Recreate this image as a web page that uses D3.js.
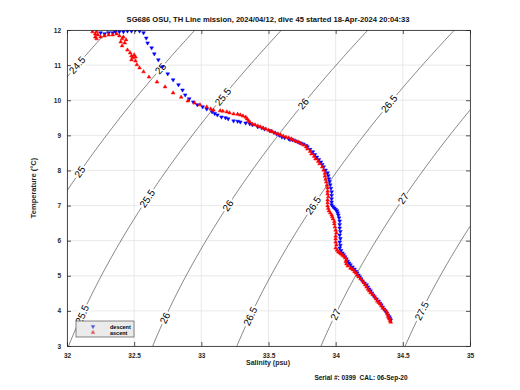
<!DOCTYPE html>
<html>
<head>
<meta charset="utf-8">
<script src="https://cdn.jsdelivr.net/npm/d3@7"></script>
<style>
body{margin:0;background:#fff}
text{font-family:"Liberation Sans",Arial,sans-serif}
</style>
</head>
<body>
<script>
// chart text
var titleText="SG686 OSU, TH Line mission, 2024/04/12, dive 45 started 18-Apr-2024 20:04:33";
var footText="Serial #: 0399  CAL: 06-Sep-20";

// ticks
var salTicks=[32,32.5,33,33.5,34,34.5,35];
var tempTicks=[3,4,5,6,7,8,9,10,11,12];

// isopycnal levels and where their labels sit (temperature)
var sigmaLevels=[24.5,25,25.5,26,26.5,27,27.5];
var labelSpots=[[24.5,11.0],[25,10.9],[25,7.96],[25.5,10.1],[25.5,7.2],[25.5,3.9],
  [26,9.9],[26,7.0],[26,3.8],[26.5,9.9],[26.5,7.0],[26.5,3.85],[27,7.2],[27,3.9],[27.5,4.0]];

// descent profile [salinity, temperature]
var descent=[[32.25,11.92],[32.28,11.89],[32.31,11.92],[32.34,11.92],[32.36,11.95],[32.39,11.95],
[32.42,11.95],[32.45,11.97],[32.48,11.97],[32.51,12.00],[32.54,11.97],[32.57,11.92],[32.59,11.77],
[32.60,11.63],[32.63,11.49],[32.65,11.32],[32.68,11.15],[32.71,10.95],[32.75,10.75],[32.79,10.58],
[32.83,10.44],[32.86,10.29],[32.88,10.15],[32.91,10.04],[32.94,9.95],[32.97,9.87],[33.01,9.81],
[33.04,9.75],[33.08,9.67],[33.12,9.58],[33.15,9.52],[33.20,9.47],[33.24,9.41],[33.29,9.38],
[33.33,9.35],[33.38,9.30],[33.42,9.24],[33.47,9.18],[33.51,9.13],[33.56,9.04],[33.60,8.95],
[33.65,8.90],[33.68,8.87],[33.72,8.81],[33.76,8.75],[33.79,8.67],[33.83,8.53],[33.86,8.38],
[33.89,8.24],[33.91,8.10],[33.94,7.93],[33.95,7.76],[33.96,7.59],[33.97,7.39],[33.97,7.19],
[33.97,7.02],[33.99,6.93],[34.01,6.85],[34.02,6.73],[34.03,6.56],[34.03,6.36],[34.03,6.16],
[34.03,5.96],[34.03,5.79],[34.05,5.65],[34.07,5.54],[34.09,5.42],[34.11,5.31],[34.14,5.19],
[34.16,5.08],[34.18,4.97],[34.20,4.85],[34.23,4.74],[34.25,4.62],[34.27,4.51],[34.29,4.40],
[34.32,4.28],[34.34,4.17],[34.36,4.05],[34.38,3.94],[34.40,3.83],[34.41,3.74],
[33.10,9.62],[33.18,9.50],[33.27,9.40],[33.36,9.33],[33.45,9.21],[33.54,9.08],[33.58,9.00],
[33.62,8.93],[33.66,8.88],[33.70,8.84],[33.74,8.78],[33.78,8.71],[33.81,8.60],[33.845,8.45],
[33.875,8.31],[33.90,8.17],[33.925,8.01],[33.945,7.85],[33.955,7.68],[33.965,7.49],[33.97,7.29],
[33.97,7.10],[33.98,6.97],[34.00,6.89],[34.015,6.79],[34.025,6.65],[34.03,6.46],[34.035,6.26],
[34.035,6.06],[34.035,5.87],[34.04,5.72],[34.06,5.60],[34.08,5.48],[34.10,5.36],[34.125,5.25],
[34.15,5.13],[34.17,5.02],[34.19,4.91],[34.215,4.79],[34.24,4.68],[34.26,4.57],[34.28,4.45],
[34.305,4.34],[34.33,4.22],[34.35,4.11],[34.37,4.00],[34.39,3.88],[34.405,3.78]];

// ascent profile [salinity, temperature]
var ascent=[[32.19,11.95],[32.21,11.89],[32.22,11.95],[32.21,11.80],[32.23,11.86],[32.22,11.75],
[32.25,11.80],[32.28,11.83],[32.31,11.86],[32.34,11.86],[32.37,11.89],[32.39,11.83],[32.41,11.75],
[32.42,11.80],[32.40,11.66],[32.43,11.63],[32.41,11.55],[32.44,11.72],[32.45,11.43],[32.47,11.35],
[32.48,11.26],[32.49,11.21],[32.51,11.23],[32.48,11.15],[32.51,11.12],[32.50,11.29],[32.52,11.01],
[32.54,10.92],[32.57,10.81],[32.61,10.66],[32.67,10.52],[32.73,10.38],[32.79,10.21],[32.85,10.09],
[32.90,9.98],[32.95,9.92],[32.99,9.87],[33.04,9.81],[33.07,9.75],[33.09,9.72],[33.14,9.70],
[33.19,9.67],[33.24,9.61],[33.29,9.58],[33.33,9.52],[33.34,9.47],[33.36,9.38],[33.38,9.32],
[33.42,9.27],[33.46,9.21],[33.50,9.15],[33.53,9.10],[33.57,9.04],[33.61,8.98],[33.65,8.93],
[33.68,8.87],[33.72,8.81],[33.76,8.73],[33.79,8.61],[33.82,8.47],[33.85,8.33],[33.88,8.19],
[33.91,8.01],[33.92,7.84],[33.93,7.67],[33.94,7.50],[33.94,7.33],[33.94,7.16],[33.94,6.99],
[33.95,6.85],[33.97,6.73],[33.98,6.62],[33.99,6.48],[34.00,6.30],[34.00,6.13],[34.00,5.96],
[34.00,5.79],[34.02,5.68],[34.04,5.62],[34.06,5.56],[34.08,5.45],[34.08,5.34],[34.11,5.22],
[34.13,5.17],[34.15,5.08],[34.17,4.97],[34.20,4.85],[34.22,4.74],[34.24,4.62],[34.26,4.51],
[34.29,4.40],[34.31,4.28],[34.33,4.20],[34.35,4.08],[34.38,3.97],[34.39,3.85],[34.40,3.77],[34.41,3.68],
[33.16,9.69],[33.21,9.64],[33.27,9.60],[33.31,9.55],[33.35,9.42],[33.40,9.30],[33.44,9.24],
[33.48,9.18],[33.52,9.12],[33.55,9.07],[33.59,9.01],
[33.63,8.95],[33.67,8.90],[33.70,8.84],[33.74,8.77],[33.78,8.67],[33.81,8.54],[33.84,8.40],
[33.87,8.26],[33.90,8.10],[33.92,7.92],[33.925,7.75],[33.935,7.58],[33.94,7.41],[33.945,7.25],
[33.94,7.08],[33.945,6.92],[33.96,6.79],[33.975,6.68],[33.99,6.55],[33.995,6.39],[34.005,6.22],
[34.00,6.05],[34.005,5.88],[34.01,5.73],[34.03,5.65],[34.05,5.59],[34.07,5.51],[34.075,5.40],
[34.09,5.28],[34.12,5.20],[34.14,5.12],[34.16,5.02],[34.185,4.91],[34.21,4.80],[34.23,4.68],
[34.25,4.57],[34.275,4.46],[34.30,4.34],[34.32,4.24],[34.34,4.14],[34.365,4.03],[34.385,3.91],
[34.395,3.81],[34.405,3.72]];

var W=520,H=390;
var pL=67,pR=470,pT=30,pB=346;

var svg=d3.select("body").append("svg").attr("width",W).attr("height",H);

var x=d3.scaleLinear().domain([32,35]).range([pL,pR]);
var y=d3.scaleLinear().domain([3,12]).range([pB,pT]);

// UNESCO EOS-80 density anomaly at surface pressure
function sigma(S,T){
  var rw=999.842594+6.793952e-2*T-9.095290e-3*T*T+1.001685e-4*T*T*T-1.120083e-6*T*T*T*T+6.536332e-9*T*T*T*T*T;
  var a=0.824493-4.0899e-3*T+7.6438e-5*T*T-8.2467e-7*T*T*T+5.3875e-9*T*T*T*T;
  var b=-5.72466e-3+1.0227e-4*T-1.6546e-6*T*T;
  return rw+a*S+b*Math.pow(S,1.5)+4.8314e-4*S*S-1000;
}
function salFor(level,T){
  var lo=25,hi=40;
  for(var k=0;k<50;k++){
    var mid=(lo+hi)/2;
    if(sigma(mid,T)<level) lo=mid; else hi=mid;
  }
  return (lo+hi)/2;
}

svg.append("clipPath").attr("id","plotclip").append("rect")
  .attr("x",pL).attr("y",pT).attr("width",pR-pL).attr("height",pB-pT);

// grid
var grid=svg.append("g");
grid.selectAll(".gx").data(salTicks).enter().append("line")
  .attr("x1",d=>x(d)).attr("x2",d=>x(d)).attr("y1",pT).attr("y2",pB)
  .attr("stroke","#e3e3e3").attr("stroke-width",0.8);
grid.selectAll(".gy").data(tempTicks).enter().append("line")
  .attr("x1",pL).attr("x2",pR).attr("y1",d=>y(d)).attr("y2",d=>y(d))
  .attr("stroke","#e3e3e3").attr("stroke-width",0.8);

// isopycnals
var plot=svg.append("g").attr("clip-path","url(#plotclip)");
var tSteps=d3.range(2.5,12.55,0.05);
var line=d3.line().x(d=>x(d[0])).y(d=>y(d[1]));
plot.selectAll(".iso").data(sigmaLevels).enter().append("path")
  .attr("d",lv=>line(tSteps.map(t=>[salFor(lv,t),t])))
  .attr("fill","none").attr("stroke","#333").attr("stroke-width",0.6);

plot.selectAll(".isolab").data(labelSpots).enter().append("text")
  .attr("transform",function(d){
    var s=salFor(d[0],d[1]);
    var s1=salFor(d[0],d[1]-0.1),s2=salFor(d[0],d[1]+0.1);
    var ang=Math.atan2(y(d[1]+0.1)-y(d[1]-0.1),x(s2)-x(s1))*180/Math.PI;
    return "translate("+x(s)+","+y(d[1])+") rotate("+ang+")";
  })
  .attr("text-anchor","middle").attr("dy","0.35em")
  .attr("font-size",10).attr("fill","#000")
  .attr("stroke","#fff").attr("stroke-width",4).attr("paint-order","stroke")
  .text(d=>d[0]);

// profiles
var tri=d3.symbol().type(d3.symbolTriangle).size(6);
plot.selectAll(".dn").data(descent).enter().append("path")
  .attr("d",tri)
  .attr("transform",d=>"translate("+x(d[0])+","+y(d[1])+") rotate(180)")
  .attr("fill","#0000ff").attr("stroke","#0000ff").attr("stroke-width",0.5);
plot.selectAll(".up").data(ascent).enter().append("path")
  .attr("d",tri)
  .attr("transform",d=>"translate("+x(d[0])+","+y(d[1])+")")
  .attr("fill","#ff0000").attr("stroke","#ff0000").attr("stroke-width",0.5);

// axes
var fmt=d3.format("~g");
var xAx=svg.append("g").attr("transform","translate(0,"+pB+")")
  .call(d3.axisBottom(x).tickValues(salTicks).tickFormat(fmt).tickSizeInner(-4).tickSizeOuter(0).tickPadding(7));
var xTop=svg.append("g").attr("transform","translate(0,"+pT+")")
  .call(d3.axisTop(x).tickValues(salTicks).tickFormat("").tickSizeInner(-4).tickSizeOuter(0));
var yAx=svg.append("g").attr("transform","translate("+pL+",0)")
  .call(d3.axisLeft(y).tickValues(tempTicks).tickFormat(fmt).tickSizeInner(-4).tickSizeOuter(0).tickPadding(6));
var yRt=svg.append("g").attr("transform","translate("+pR+",0)")
  .call(d3.axisRight(y).tickValues(tempTicks).tickFormat("").tickSizeInner(-4).tickSizeOuter(0));
[xAx,xTop,yAx,yRt].forEach(function(g){
  g.selectAll("path,line").attr("stroke","#262626").attr("stroke-width",0.8);
  g.selectAll("text").attr("font-size",6.5).attr("font-weight","bold").attr("fill","#262626")
    .style("font-family","'Liberation Sans',Arial,sans-serif");
});

// legend
var lg=svg.append("g").attr("transform","translate(76,321)");
lg.append("rect").attr("width",58).attr("height",16).attr("fill","#ebebeb").attr("stroke","#555").attr("stroke-width",0.7);
lg.append("path").attr("d",tri).attr("transform","translate(17,5.5) rotate(180)").attr("fill","#5555dd").attr("stroke","#5555dd").attr("stroke-width",0.4);
lg.append("path").attr("d",tri).attr("transform","translate(17,11.5)").attr("fill","#e05555").attr("stroke","#e05555").attr("stroke-width",0.4);
lg.append("text").attr("x",34).attr("y",7.5).attr("font-size",5.5).attr("font-weight","bold").text("descent");
lg.append("text").attr("x",34).attr("y",13.5).attr("font-size",5.5).attr("font-weight","bold").text("ascent");

// titles
svg.append("text").attr("x",268).attr("y",22).attr("text-anchor","middle")
  .attr("font-size",7.6).attr("font-weight","bold").attr("fill","#111").text(titleText);
svg.append("text").attr("x",268).attr("y",365).attr("text-anchor","middle")
  .attr("font-size",7).attr("font-weight","bold").attr("fill","#262626").text("Salinity (psu)");
svg.append("text").attr("transform","translate(36,188) rotate(-90)").attr("text-anchor","middle")
  .attr("font-size",7.5).attr("font-weight","bold").attr("fill","#262626").text("Temperature (°C)");
svg.append("text").attr("x",361).attr("y",380).attr("text-anchor","middle").attr("xml:space","preserve")
  .style("white-space","pre")
  .attr("font-size",6.5).attr("font-weight","bold").attr("fill","#111").text(footText);
</script>
</body>
</html>
